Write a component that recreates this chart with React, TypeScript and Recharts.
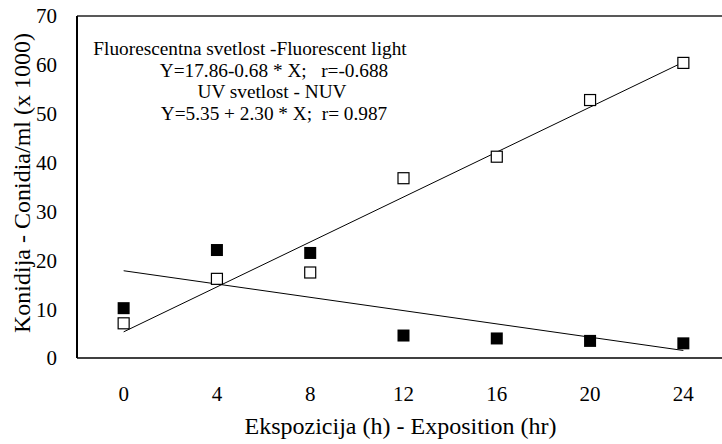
import { ComposedChart, Scatter, Line, XAxis, YAxis, ReferenceLine } from 'recharts';

// exposure time (h)
const hours = [0, 4, 8, 12, 16, 20, 24];
// conidia/ml (x 1000)
const fluorescent = [10.2, 22.1, 21.5, 4.6, 4.0, 3.5, 3.0];
const nuv = [7.1, 16.2, 17.5, 36.8, 41.2, 52.8, 60.4];
// regression line end points (only first and last hour)
const fluorescentFit = [17.86, null, null, null, null, null, 1.54];
const nuvFit = [5.35, null, null, null, null, null, 60.55];

const yTicks = [0, 10, 20, 30, 40, 50, 60, 70];
const yEdgeTicks = [0, 70];
const bandEdges = [-2, 2, 6, 10, 14, 18, 22, 26];

const noteLines = [
  'Fluorescentna svetlost -Fluorescent light',
  'Y=17.86-0.68 * X;   r=-0.688',
  'UV svetlost - NUV',
  'Y=5.35 + 2.30 * X;  r= 0.987',
];
const notePos = [
  { x: 250, y: 55 },
  { x: 274, y: 77 },
  { x: 272, y: 98 },
  { x: 274, y: 120 },
];

const data = hours.map((h, i) => ({
  hour: h,
  fl: fluorescent[i],
  uv: nuv[i],
  flFit: fluorescentFit[i],
  uvFit: nuvFit[i],
}));

const font = '"Liberation Serif", "Times New Roman", serif';

const FilledSquare = (p: any) => (
  <rect x={p.cx - 6} y={p.cy - 6} width={12} height={12} fill="#000" />
);

const OpenSquare = (p: any) => (
  <rect x={p.cx - 5.5} y={p.cy - 5.5} width={11} height={11} fill="#fff" stroke="#000" strokeWidth={1.2} />
);

const App = () => {
  return (
    <div style={{ position: 'fixed', left: 0, top: 0, width: 722, height: 444, overflow: 'hidden', background: '#fff' }}>
      <ComposedChart
        width={740}
        height={444}
        data={data}
        margin={{ top: 16, right: 10, bottom: 0, left: 0 }}
      >
        <XAxis
          xAxisId="edges"
          type="number"
          domain={[-2, 26]}
          ticks={bandEdges}
          tick={false}
          tickSize={7}
          tickLine={{ stroke: '#000', strokeWidth: 1.2 }}
          axisLine={false}
          height={0}
        />
        <XAxis
          xAxisId="x"
          dataKey="hour"
          type="number"
          domain={[-2, 26]}
          ticks={hours}
          tickLine={false}
          tickMargin={22}
          axisLine={{ stroke: '#000', strokeWidth: 1.5 }}
          tick={{ fill: '#000', fontSize: 21, fontFamily: font }}
          height={86}
          label={{
            value: 'Ekspozicija (h) - Exposition (hr)',
            position: 'insideBottom',
            dx: -3,
            offset: 10,
            style: { fill: '#000', fontSize: 24, fontFamily: font },
          }}
        />
        <YAxis
          yAxisId="edges"
          type="number"
          domain={[0, 70]}
          ticks={yEdgeTicks}
          tick={false}
          tickSize={7}
          tickLine={{ stroke: '#000', strokeWidth: 1.2 }}
          axisLine={false}
          width={0}
        />
        <YAxis
          type="number"
          domain={[0, 70]}
          ticks={yTicks}
          width={77}
          tickLine={false}
          tickMargin={14}
          axisLine={{ stroke: '#000', strokeWidth: 2 }}
          tick={{ fill: '#000', fontSize: 21, fontFamily: font }}
          label={{
            value: 'Konidija - Conidia/ml (x 1000)',
            angle: -90,
            position: 'center',
            dx: -17,
            dy: -4,
            style: { fill: '#000', fontSize: 24, fontFamily: font, textAnchor: 'middle' },
          }}
        />
        <ReferenceLine xAxisId="x" y={70} stroke="#222" strokeWidth={1.5} />
        <Line
          xAxisId="x"
          dataKey="flFit"
          type="linear"
          stroke="#000"
          strokeWidth={1}
          dot={false}
          connectNulls
          isAnimationActive={false}
        />
        <Line
          xAxisId="x"
          dataKey="uvFit"
          type="linear"
          stroke="#000"
          strokeWidth={1}
          dot={false}
          connectNulls
          isAnimationActive={false}
        />
        <Scatter xAxisId="x" data={data} dataKey="fl" shape={FilledSquare} isAnimationActive={false} />
        <Scatter xAxisId="x" data={data} dataKey="uv" shape={OpenSquare} isAnimationActive={false} />
      </ComposedChart>
      <svg
        width={722}
        height={444}
        style={{ position: 'absolute', left: 0, top: 0, pointerEvents: 'none' }}
      >
        {noteLines.map((t, i) => (
          <text
            key={i}
            x={notePos[i].x}
            y={notePos[i].y}
            textAnchor="middle"
            fontFamily={font}
            fontSize={19.3}
            fill="#000"
            style={{ whiteSpace: 'pre' }}
          >
            {t}
          </text>
        ))}
      </svg>
    </div>
  );
};

export default App;
